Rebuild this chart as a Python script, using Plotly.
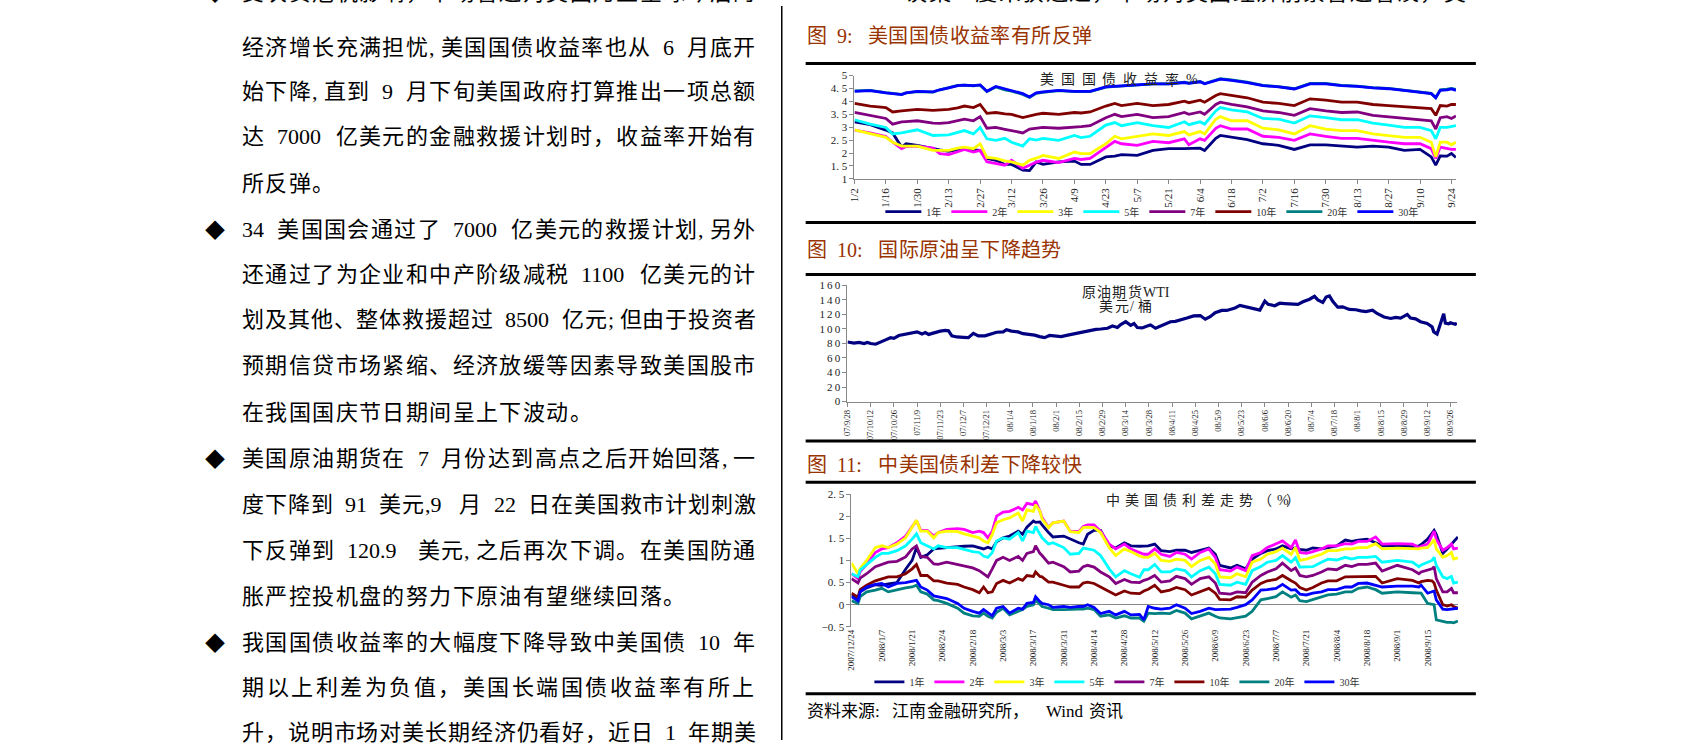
import plotly.graph_objects as go

W, H = 1684, 746
SERIF = "Liberation Serif, Noto Sans CJK SC"
CJK = "Noto Sans CJK SC"

# ---------------- data: chart 1 (US treasury yields, %) ----------------
D1_DATES = ["2008-01-02", "2008-01-09", "2008-01-16", "2008-01-19", "2008-01-23", "2008-01-25", "2008-01-30",
            "2008-02-06", "2008-02-09", "2008-02-13", "2008-02-17", "2008-02-20", "2008-02-24", "2008-02-27",
            "2008-03-01", "2008-03-05", "2008-03-09", "2008-03-12", "2008-03-17", "2008-03-20", "2008-03-23",
            "2008-03-26", "2008-04-02", "2008-04-09", "2008-04-12", "2008-04-16", "2008-04-23", "2008-04-27",
            "2008-04-30", "2008-05-07", "2008-05-14", "2008-05-21", "2008-05-28", "2008-05-30", "2008-06-04",
            "2008-06-06", "2008-06-11", "2008-06-13", "2008-06-18", "2008-06-25", "2008-07-02", "2008-07-09",
            "2008-07-16", "2008-07-23", "2008-07-30", "2008-08-06", "2008-08-13", "2008-08-20", "2008-08-27",
            "2008-09-03", "2008-09-10", "2008-09-15", "2008-09-17", "2008-09-19", "2008-09-22", "2008-09-24",
            "2008-09-26"]
US_1Y = [3.21, 3.10, 2.89, 2.78, 2.23, 2.36, 2.30, 2.17, 2.12, 2.07,
         2.12, 2.17, 2.12, 2.10, 1.79, 1.72, 1.56, 1.56, 1.34, 1.32,
         1.66, 1.56, 1.66, 1.69, 1.56, 1.56, 1.85, 1.88, 1.94, 1.91,
         2.10, 2.17, 2.17, 2.17, 2.19, 2.10, 2.57, 2.68, 2.61, 2.52,
         2.36, 2.30, 2.14, 2.32, 2.32, 2.27, 2.23, 2.27, 2.23, 2.10,
         2.14, 1.85, 1.53, 1.89, 1.88, 1.98, 1.83]
US_2Y = [2.89, 2.78, 2.64, 2.42, 2.17, 2.25, 2.27, 2.19, 1.98, 1.94,
         2.05, 2.14, 2.04, 2.10, 1.66, 1.60, 1.53, 1.72, 1.41, 1.53,
         1.65, 1.72, 1.63, 1.79, 1.75, 1.79, 2.23, 2.45, 2.36, 2.30,
         2.45, 2.40, 2.55, 2.32, 2.55, 2.49, 2.96, 3.06, 2.93, 2.93,
         2.65, 2.61, 2.49, 2.74, 2.65, 2.57, 2.57, 2.49, 2.42, 2.36,
         2.36, 2.17, 1.79, 2.23, 2.17, 2.14, 2.14]
US_3Y = [2.90, 2.74, 2.61, 2.42, 2.27, 2.27, 2.27, 2.10, 2.10, 2.10,
         2.19, 2.23, 2.17, 2.36, 1.83, 1.79, 1.70, 1.66, 1.53, 1.72,
         1.80, 1.91, 1.79, 2.04, 1.98, 1.98, 2.36, 2.65, 2.55, 2.65,
         2.74, 2.68, 2.83, 2.70, 2.83, 2.74, 3.31, 3.41, 3.25, 3.25,
         2.96, 2.90, 2.74, 3.06, 2.93, 2.87, 2.87, 2.74, 2.68, 2.61,
         2.61, 2.42, 1.85, 2.42, 2.42, 2.32, 2.42]
US_5Y = [3.29, 3.12, 2.99, 2.74, 2.78, 2.82, 2.90, 2.68, 2.70, 2.70,
         2.80, 2.87, 2.74, 2.99, 2.55, 2.49, 2.57, 2.42, 2.27, 2.55,
         2.50, 2.57, 2.49, 2.68, 2.60, 2.65, 3.08, 3.18, 3.06, 3.18,
         3.06, 2.99, 3.21, 3.10, 3.21, 3.12, 3.63, 3.76, 3.67, 3.59,
         3.34, 3.31, 3.16, 3.44, 3.37, 3.29, 3.29, 3.16, 3.08, 2.99,
         2.99, 2.87, 2.55, 2.99, 2.99, 3.03, 3.06]
US_7Y = [3.57, 3.46, 3.34, 3.12, 3.21, 3.22, 3.25, 3.16, 3.15, 3.18,
         3.25, 3.31, 3.25, 3.41, 2.96, 2.99, 2.92, 2.87, 2.78, 2.93,
         2.95, 2.99, 2.96, 2.99, 3.02, 3.06, 3.37, 3.50, 3.41, 3.50,
         3.37, 3.41, 3.57, 3.50, 3.59, 3.50, 3.88, 3.97, 3.88, 3.79,
         3.63, 3.57, 3.46, 3.72, 3.63, 3.57, 3.59, 3.46, 3.41, 3.34,
         3.31, 3.25, 2.93, 3.37, 3.41, 3.34, 3.44]
US_10Y = [3.92, 3.82, 3.76, 3.59, 3.63, 3.65, 3.69, 3.65, 3.66, 3.69,
          3.75, 3.82, 3.76, 3.88, 3.54, 3.57, 3.52, 3.50, 3.37, 3.44,
          3.50, 3.54, 3.50, 3.57, 3.55, 3.59, 3.82, 3.92, 3.84, 3.92,
          3.84, 3.88, 4.01, 3.95, 4.05, 3.97, 4.23, 4.30, 4.23, 4.14,
          3.97, 3.92, 3.84, 4.10, 4.05, 3.97, 3.97, 3.88, 3.84, 3.79,
          3.76, 3.72, 3.46, 3.84, 3.82, 3.88, 3.88]
US_20Y = [4.41, 4.43, 4.34, 4.30, 4.27, 4.33, 4.38, 4.36, 4.45, 4.53,
          4.62, 4.63, 4.60, 4.63, 4.38, 4.56, 4.45, 4.40, 4.27, 4.15,
          4.31, 4.35, 4.42, 4.38, 4.37, 4.38, 4.55, 4.57, 4.60, 4.63,
          4.68, 4.68, 4.74, 4.71, 4.77, 4.69, 4.83, 4.88, 4.83, 4.75,
          4.62, 4.57, 4.49, 4.70, 4.70, 4.62, 4.59, 4.53, 4.50, 4.44,
          4.36, 4.31, 4.15, 4.45, 4.47, 4.50, 4.46]
US_30Y = [4.39, 4.42, 4.33, 4.29, 4.26, 4.33, 4.39, 4.37, 4.45, 4.52,
          4.61, 4.63, 4.61, 4.64, 4.39, 4.58, 4.48, 4.43, 4.30, 4.17,
          4.33, 4.37, 4.43, 4.39, 4.38, 4.39, 4.56, 4.58, 4.61, 4.64,
          4.68, 4.68, 4.73, 4.70, 4.76, 4.68, 4.81, 4.86, 4.81, 4.73,
          4.61, 4.56, 4.48, 4.68, 4.68, 4.61, 4.58, 4.52, 4.49, 4.43,
          4.35, 4.30, 4.14, 4.43, 4.45, 4.48, 4.43]
D1_TICKS = ["2008-01-02", "2008-01-16", "2008-01-30", "2008-02-13", "2008-02-27", "2008-03-12", "2008-03-26",
            "2008-04-09", "2008-04-23", "2008-05-07", "2008-05-21", "2008-06-04", "2008-06-18", "2008-07-02",
            "2008-07-16", "2008-07-30", "2008-08-13", "2008-08-27", "2008-09-10", "2008-09-24"]
D1_TICKTEXT = ["1/2", "1/16", "1/30", "2/13", "2/27", "3/12", "3/26", "4/9", "4/23", "5/7", "5/21",
               "6/4", "6/18", "7/2", "7/16", "7/30", "8/13", "8/27", "9/10", "9/24"]
Y1_TICKS = [1, 1.5, 2, 2.5, 3, 3.5, 4, 4.5, 5]
Y1_TICKTEXT = ["1", "1. 5", "2", "2. 5", "3", "3. 5", "4", "4. 5", "5"]

# ---------------- data: chart 2 (WTI crude futures, USD/bbl) ----------------
OIL_DATES = ["2007-09-28", "2007-10-02", "2007-10-05", "2007-10-08", "2007-10-10", "2007-10-12", "2007-10-15",
             "2007-10-18", "2007-10-21", "2007-10-24", "2007-10-26", "2007-10-29", "2007-11-02", "2007-11-05",
             "2007-11-09", "2007-11-12", "2007-11-14", "2007-11-16", "2007-11-19", "2007-11-23", "2007-11-26",
             "2007-11-28", "2007-11-30", "2007-12-03", "2007-12-07", "2007-12-10", "2007-12-13", "2007-12-16",
             "2007-12-20", "2007-12-24", "2007-12-27", "2007-12-31", "2008-01-02", "2008-01-05", "2008-01-09",
             "2008-01-12", "2008-01-15", "2008-01-19", "2008-01-22", "2008-01-25", "2008-01-28", "2008-02-01",
             "2008-02-04", "2008-02-08", "2008-02-11", "2008-02-14", "2008-02-18", "2008-02-21", "2008-02-25",
             "2008-02-28", "2008-03-03", "2008-03-06", "2008-03-09", "2008-03-11", "2008-03-14", "2008-03-17",
             "2008-03-19", "2008-03-21", "2008-03-24", "2008-03-27", "2008-03-29", "2008-04-01", "2008-04-04",
             "2008-04-07", "2008-04-10", "2008-04-13", "2008-04-17", "2008-04-20", "2008-04-24", "2008-04-28",
             "2008-05-01", "2008-05-04", "2008-05-07", "2008-05-11", "2008-05-14", "2008-05-17", "2008-05-19",
             "2008-05-22", "2008-05-25", "2008-05-28", "2008-05-31", "2008-06-03", "2008-06-06", "2008-06-08",
             "2008-06-12", "2008-06-15", "2008-06-18", "2008-06-22", "2008-06-26", "2008-06-29", "2008-07-03",
             "2008-07-06", "2008-07-08", "2008-07-11", "2008-07-13", "2008-07-15", "2008-07-17", "2008-07-20",
             "2008-07-23", "2008-07-27", "2008-07-31", "2008-08-03", "2008-08-06", "2008-08-10", "2008-08-13",
             "2008-08-17", "2008-08-21", "2008-08-24", "2008-08-27", "2008-08-31", "2008-09-02", "2008-09-05",
             "2008-09-08", "2008-09-12", "2008-09-15", "2008-09-16", "2008-09-18", "2008-09-19", "2008-09-22",
             "2008-09-23", "2008-09-25", "2008-09-26", "2008-09-29", "2008-09-30"]
OIL_WTI = [82.0, 80.5, 81.5, 80.0, 81.5, 80.0, 79.0,
           82.5, 85.0, 88.0, 87.0, 91.0, 92.5, 94.5,
           96.0, 93.0, 95.0, 92.5, 94.5, 97.0, 98.0,
           97.5, 90.5, 89.0, 88.5, 88.0, 94.0, 90.5,
           90.5, 93.0, 95.5, 96.0, 99.0, 97.0, 96.0,
           93.5, 93.0, 91.5, 89.5, 88.0, 91.0, 90.0,
           89.5, 91.5, 93.0, 94.0, 96.5, 98.0, 99.5,
           100.0, 101.0, 104.0, 102.0, 106.0, 110.0, 105.0,
           107.5, 102.0, 101.5, 104.0, 105.5, 101.0, 104.0,
           107.0, 110.0, 110.5, 112.5, 115.0, 118.0, 118.5,
           113.5, 117.0, 122.5, 125.5, 125.5, 127.0, 129.0,
           132.5, 131.0, 130.0, 127.5, 126.0, 138.5, 134.0,
           132.0, 135.5, 135.0, 135.0, 134.0, 137.5, 141.0,
           145.0, 140.0, 136.5, 144.0, 145.5, 138.0, 130.0,
           130.5, 127.0, 126.5, 125.0, 124.0, 126.0, 121.0,
           116.5, 114.5, 116.0, 115.0, 120.0, 115.0, 114.0,
           110.0, 107.5, 103.0, 96.0, 93.0, 100.0, 121.0,
           108.0, 107.0, 108.5, 106.5, 108.0]
D2_TICKS = ["2007-09-28", "2007-10-12", "2007-10-26", "2007-11-09", "2007-11-23", "2007-12-07", "2007-12-21",
            "2008-01-04", "2008-01-18", "2008-02-01", "2008-02-15", "2008-02-29", "2008-03-14", "2008-03-28",
            "2008-04-11", "2008-04-25", "2008-05-09", "2008-05-23", "2008-06-06", "2008-06-20", "2008-07-04",
            "2008-07-18", "2008-08-01", "2008-08-15", "2008-08-29", "2008-09-12", "2008-09-26"]
D2_TICKTEXT = ["07/9/28", "07/10/12", "07/10/26", "07/11/9", "07/11/23", "07/12/7", "07/12/21",
               "08/1/4", "08/1/18", "08/2/1", "08/2/15", "08/2/29", "08/3/14", "08/3/28",
               "08/4/11", "08/4/25", "08/5/9", "08/5/23", "08/6/6", "08/6/20", "08/7/4",
               "08/7/18", "08/8/1", "08/8/15", "08/8/29", "08/9/12", "08/9/26"]
Y2_TICKS = [0, 20, 40, 60, 80, 100, 120, 140, 160]
Y2_TICKTEXT = ["0", "2\u20090", "4\u20090", "6\u20090", "8\u20090", "1\u20090\u20090",
               "1\u20092\u20090", "1\u20094\u20090", "1\u20096\u20090"]

# ---------------- data: chart 3 (China-US yield spread, %) ----------------
D3_DATES = ["2007-12-24", "2007-12-27", "2007-12-28", "2007-12-31", "2008-01-04", "2008-01-07", "2008-01-10",
            "2008-01-14", "2008-01-18", "2008-01-21", "2008-01-23", "2008-01-25", "2008-01-28", "2008-01-31",
            "2008-02-02", "2008-02-06", "2008-02-11", "2008-02-14", "2008-02-18", "2008-02-21", "2008-02-23",
            "2008-02-25", "2008-02-27", "2008-02-29", "2008-03-03", "2008-03-06", "2008-03-10", "2008-03-12",
            "2008-03-14", "2008-03-17", "2008-03-18", "2008-03-20", "2008-03-21", "2008-03-24", "2008-03-26",
            "2008-03-31", "2008-04-03", "2008-04-07", "2008-04-09", "2008-04-11", "2008-04-14", "2008-04-17",
            "2008-04-21", "2008-04-24", "2008-04-28", "2008-05-01", "2008-05-05", "2008-05-07", "2008-05-09",
            "2008-05-12", "2008-05-15", "2008-05-19", "2008-05-22", "2008-05-26", "2008-05-29", "2008-06-02",
            "2008-06-06", "2008-06-09", "2008-06-11", "2008-06-16", "2008-06-19", "2008-06-23", "2008-06-26",
            "2008-06-30", "2008-07-03", "2008-07-07", "2008-07-10", "2008-07-14", "2008-07-16", "2008-07-18",
            "2008-07-21", "2008-07-24", "2008-07-28", "2008-07-31", "2008-08-04", "2008-08-08", "2008-08-11",
            "2008-08-14", "2008-08-18", "2008-08-22", "2008-08-25", "2008-09-01", "2008-09-08", "2008-09-11",
            "2008-09-12", "2008-09-15", "2008-09-17", "2008-09-18", "2008-09-19", "2008-09-22", "2008-09-24",
            "2008-09-26", "2008-09-27", "2008-09-29"]
SP_1Y = [0.22, 0.12, 0.29, 0.38, 0.45, 0.44, 0.47, 0.50, 0.80, 1.00,
         1.29, 1.07, 1.13, 1.26, 1.27, 1.29, 1.31, 1.32, 1.33, 1.28,
         1.26, 1.30, 1.26, 1.42, 1.51, 1.55, 1.66, 1.59, 1.75, 1.89,
         1.86, 1.87, 1.80, 1.63, 1.53, 1.55, 1.48, 1.40, 1.37, 1.59,
         1.68, 1.68, 1.33, 1.28, 1.40, 1.33, 1.32, 1.33, 1.33, 1.37,
         1.22, 1.20, 1.23, 1.23, 1.18, 1.23, 1.28, 1.14, 0.89, 0.83,
         0.89, 0.81, 1.03, 1.16, 1.22, 1.26, 1.33, 1.26, 1.28, 1.25,
         1.23, 1.28, 1.26, 1.29, 1.33, 1.46, 1.43, 1.46, 1.48, 1.40,
         1.33, 1.33, 1.31, 1.33, 1.36, 1.48, 1.62, 1.68, 1.59, 1.16,
         1.26, 1.37, 1.40, 1.53]
SP_2Y = [0.70, 0.59, 0.75, 0.91, 1.18, 1.26, 1.29, 1.40, 1.55, 1.77,
         1.90, 1.68, 1.68, 1.55, 1.63, 1.70, 1.72, 1.70, 1.63, 1.66,
         1.63, 1.51, 1.66, 2.00, 2.09, 2.11, 2.20, 2.14, 2.29, 2.26,
         2.34, 2.11, 1.97, 1.75, 1.85, 1.89, 1.66, 1.65, 1.77, 1.80,
         1.80, 1.66, 1.37, 1.26, 1.37, 1.26, 1.18, 1.14, 1.14, 1.26,
         1.14, 1.09, 1.18, 1.14, 1.03, 1.18, 1.26, 1.07, 0.79, 0.76,
         0.85, 0.77, 1.11, 1.18, 1.29, 1.37, 1.44, 1.29, 1.46, 1.18,
         1.16, 1.20, 1.26, 1.33, 1.33, 1.38, 1.37, 1.43, 1.43, 1.53,
         1.37, 1.38, 1.37, 1.29, 1.32, 1.37, 1.55, 1.66, 1.48, 1.23,
         1.29, 1.37, 1.26, 1.28]
SP_3Y = [0.94, 0.70, 0.82, 1.00, 1.29, 1.33, 1.29, 1.37, 1.51, 1.74,
         1.91, 1.66, 1.66, 1.51, 1.63, 1.66, 1.65, 1.60, 1.55, 1.51,
         1.44, 1.40, 1.59, 1.85, 1.92, 1.96, 2.07, 1.89, 2.14, 2.11,
         2.26, 2.11, 1.94, 1.74, 1.85, 1.89, 1.65, 1.63, 1.74, 1.75,
         1.74, 1.63, 1.29, 1.11, 1.26, 1.20, 1.10, 1.07, 1.07, 1.16,
         1.00, 0.98, 1.03, 1.00, 0.86, 1.00, 1.07, 0.92, 0.63, 0.61,
         0.70, 0.63, 0.96, 1.03, 1.14, 1.20, 1.28, 1.14, 1.29, 1.00,
         1.03, 1.07, 1.14, 1.22, 1.22, 1.26, 1.26, 1.29, 1.29, 1.38,
         1.26, 1.28, 1.26, 1.26, 1.28, 1.29, 1.40, 1.48, 1.26, 1.07,
         1.11, 1.18, 1.03, 1.06]
SP_5Y = [0.70, 0.63, 0.78, 0.91, 1.07, 1.16, 1.16, 1.22, 1.33, 1.48,
         1.60, 1.40, 1.33, 1.26, 1.33, 1.29, 1.29, 1.25, 1.20, 1.18,
         1.10, 1.07, 1.18, 1.44, 1.51, 1.48, 1.63, 1.44, 1.66, 1.63,
         1.77, 1.59, 1.51, 1.37, 1.40, 1.29, 1.14, 1.16, 1.28, 1.26,
         1.23, 1.11, 0.81, 0.63, 0.77, 0.70, 0.62, 0.79, 0.79, 0.91,
         0.74, 0.74, 0.81, 0.77, 0.63, 0.77, 0.85, 0.70, 0.46, 0.44,
         0.51, 0.46, 0.77, 0.86, 0.96, 1.00, 1.11, 0.96, 1.06, 0.85,
         0.85, 0.86, 0.96, 1.03, 1.01, 1.07, 1.03, 1.07, 1.07, 1.09,
         0.96, 1.00, 0.96, 0.86, 0.90, 0.96, 1.00, 1.07, 0.89, 0.63,
         0.59, 0.64, 0.49, 0.51]
SP_7Y = [0.59, 0.49, 0.60, 0.70, 0.86, 0.91, 0.96, 0.98, 1.08, 1.26,
         1.33, 1.09, 1.07, 0.92, 0.91, 0.96, 0.91, 0.88, 0.83, 0.77,
         0.70, 0.63, 0.81, 1.00, 1.07, 1.00, 1.09, 1.00, 1.16, 1.20,
         1.33, 1.16, 1.11, 0.94, 0.96, 0.86, 0.74, 0.76, 0.86, 0.89,
         0.85, 0.74, 0.63, 0.48, 0.57, 0.51, 0.50, 0.55, 0.58, 0.66,
         0.51, 0.54, 0.64, 0.59, 0.46, 0.59, 0.63, 0.49, 0.26, 0.24,
         0.29, 0.27, 0.51, 0.66, 0.74, 0.81, 0.94, 0.77, 0.83, 0.66,
         0.63, 0.66, 0.74, 0.81, 0.79, 0.89, 0.86, 0.91, 0.91, 0.94,
         0.76, 0.89, 0.79, 0.70, 0.74, 0.78, 0.81, 0.86, 0.59, 0.29,
         0.29, 0.37, 0.27, 0.27]
SP_10Y = [0.26, 0.17, 0.34, 0.44, 0.54, 0.59, 0.63, 0.63, 0.70, 0.81,
          0.91, 0.66, 0.66, 0.54, 0.54, 0.49, 0.46, 0.40, 0.34, 0.27,
          0.40, 0.27, 0.29, 0.48, 0.55, 0.49, 0.59, 0.55, 0.66, 0.64,
          0.74, 0.64, 0.63, 0.51, 0.51, 0.44, 0.40, 0.40, 0.49, 0.51,
          0.48, 0.40, 0.29, 0.22, 0.31, 0.26, 0.25, 0.31, 0.35, 0.44,
          0.29, 0.33, 0.39, 0.34, 0.22, 0.29, 0.37, 0.26, 0.12, 0.11,
          0.18, 0.17, 0.33, 0.48, 0.54, 0.57, 0.66, 0.54, 0.49, 0.39,
          0.33, 0.39, 0.49, 0.54, 0.54, 0.63, 0.63, 0.63, 0.64, 0.64,
          0.49, 0.59, 0.55, 0.49, 0.52, 0.55, 0.54, 0.49, 0.33, 0.00,
          -0.03, 0.00, -0.04, -0.08]
SP_20Y = [0.09, 0.03, 0.18, 0.29, 0.33, 0.37, 0.29, 0.34, 0.38, 0.40,
          0.44, 0.29, 0.24, 0.11, 0.09, 0.03, -0.08, -0.19, -0.25, -0.26,
          -0.19, -0.26, -0.30, -0.17, -0.08, -0.23, -0.15, -0.11, -0.04, 0.00,
          0.11, 0.00, -0.04, -0.08, -0.11, -0.11, -0.10, -0.10, -0.10, -0.08,
          -0.11, -0.26, -0.23, -0.30, -0.25, -0.30, -0.30, -0.37, -0.19, -0.20,
          -0.19, -0.20, -0.13, -0.19, -0.32, -0.26, -0.19, -0.26, -0.30, -0.32,
          -0.30, -0.26, -0.15, 0.11, 0.14, 0.18, 0.29, 0.17, 0.22, 0.09,
          0.07, 0.11, 0.18, 0.22, 0.24, 0.29, 0.29, 0.37, 0.40, 0.34,
          0.26, 0.29, 0.27, 0.27, 0.26, 0.03, 0.00, 0.00, -0.34, -0.38,
          -0.40, -0.40, -0.41, -0.37]
SP_30Y = [0.18, 0.09, 0.29, 0.40, 0.46, 0.48, 0.40, 0.48, 0.50, 0.54,
          0.55, 0.40, 0.33, 0.20, 0.18, 0.14, 0.03, -0.08, -0.15, -0.19,
          -0.11, -0.19, -0.25, -0.08, -0.04, -0.19, -0.08, -0.10, 0.03, 0.05,
          0.18, 0.07, 0.03, 0.00, -0.06, -0.04, -0.06, -0.04, -0.04, 0.00,
          -0.06, -0.20, -0.15, -0.23, -0.15, -0.23, -0.22, -0.34, -0.04, -0.08,
          -0.10, -0.08, 0.00, -0.08, -0.20, -0.15, -0.08, -0.11, -0.11, -0.10,
          -0.06, 0.00, 0.11, 0.33, 0.34, 0.37, 0.46, 0.33, 0.34, 0.24,
          0.22, 0.26, 0.29, 0.34, 0.34, 0.40, 0.40, 0.48, 0.49, 0.44,
          0.40, 0.42, 0.42, 0.40, 0.44, 0.26, 0.29, 0.31, 0.11, -0.10,
          -0.11, -0.10, -0.10, -0.08]
D3_TICKS = ["2007-12-24", "2008-01-07", "2008-01-21", "2008-02-04", "2008-02-18", "2008-03-03", "2008-03-17",
            "2008-03-31", "2008-04-14", "2008-04-28", "2008-05-12", "2008-05-26", "2008-06-09", "2008-06-23",
            "2008-07-07", "2008-07-21", "2008-08-04", "2008-08-18", "2008-09-01", "2008-09-15"]
D3_TICKTEXT = ["2007/12/24", "2008/1/7", "2008/1/21", "2008/2/4", "2008/2/18", "2008/3/3", "2008/3/17",
               "2008/3/31", "2008/4/14", "2008/4/28", "2008/5/12", "2008/5/26", "2008/6/9", "2008/6/23",
               "2008/7/7", "2008/7/21", "2008/8/4", "2008/8/18", "2008/9/1", "2008/9/15"]
Y3_TICKS = [-0.5, 0, 0.5, 1, 1.5, 2, 2.5]
Y3_TICKTEXT = ["\u22120. 5", "0", "0. 5", "1", "1. 5", "2", "2. 5"]

SERIES_NAMES = ["1年", "2年", "3年", "5年", "7年", "10年", "20年", "30年"]

# ---------------- text ----------------
BODY_LINES = [
    "受次贷危机影响，市场普遍对美国乃至全球今后的",
    "经济增长充满担忧,美国国债收益率也从 6 月底开",
    "始下降,直到 9 月下旬美国政府打算推出一项总额",
    "达 7000 亿美元的金融救援计划时，收益率开始有",
    "所反弹。",
    "34 美国国会通过了 7000 亿美元的救援计划,另外",
    "还通过了为企业和中产阶级减税 1100 亿美元的计",
    "划及其他、整体救援超过 8500 亿元;但由于投资者",
    "预期信贷市场紧缩、经济放缓等因素导致美国股市",
    "在我国国庆节日期间呈上下波动。",
    "美国原油期货在 7 月份达到高点之后开始回落,一",
    "度下降到 91 美元,9 月 22 日在美国救市计划刺激",
    "下反弹到 120.9 美元,之后再次下调。在美国防通",
    "胀严控投机盘的努力下原油有望继续回落。",
    "我国国债收益率的大幅度下降导致中美国债 10 年",
    "期以上利差为负值，美国长端国债收益率有所上",
    "升，说明市场对美长期经济仍看好，近日 1 年期美",
]
PARAGRAPH_END = {4, 9, 13}
BULLET_LINES = {0, 5, 10, 14}
TOP_RIGHT_LINE = "议案一度未获通过，市场对美国经济前景普遍看淡，美"
FIG_TITLES = ["图 9: 美国国债收益率有所反弹", "图 10: 国际原油呈下降趋势", "图 11: 中美国债利差下降较快"]
SOURCE_TEXT = "资料来源: 江南金融研究所，  Wind 资讯"

# ---------------- layout helpers (pixel -> paper) ----------------
def px(x):
    return x / W


def py(y):
    return 1 - y / H


annotations = []


def put(text, x, y, size, color="#000000", family=SERIF, xanchor="left"):
    annotations.append(dict(text=text, x=px(x), y=py(y), xref="paper", yref="paper",
                            xanchor=xanchor, yanchor="middle", showarrow=False, borderpad=0,
                            font=dict(size=size, color=color, family=family)))


def tokens(s):
    out = []
    i = 0
    while i < len(s):
        c = s[i]
        if c == " ":
            out.append((None, 0.5))
            i += 1
        elif ord(c) < 128:
            j = i
            while j < len(s) and s[j] != " " and ord(s[j]) < 128:
                j += 1
            out.append((s[i:j], 0.5 * (j - i)))
            i = j
        else:
            out.append((c, 1.0))
            i += 1
    return out


def put_line(s, x0, y, size, pitch=None, x1=None, **kw):
    toks = tokens(s)
    total = sum(u for _, u in toks)
    unit = (x1 - x0) / total if x1 is not None else pitch
    x = x0
    for t, u in toks:
        if t:
            put(t, x, y, size, **kw)
        x += u * unit


# body text (left column)
BODY_Y = [-14, 41.7, 87, 133, 180, 227, 273, 319, 365, 412.7, 460, 506.7, 553, 600, 646.7, 692.7, 738]
for i, (line, yy) in enumerate(zip(BODY_LINES, BODY_Y)):
    if i in PARAGRAPH_END:
        put_line(line, 236, yy, 22, pitch=23.5)
    else:
        put_line(line, 236, yy, 22, x1=753)
    if i in BULLET_LINES:
        put("◆", 210, yy, 20, family=CJK, xanchor="center")

# right column text
put_line(TOP_RIGHT_LINE, 902, -14, 22, pitch=23.5)
TITLE_COLOR = "#993300"
for title, yy in zip(FIG_TITLES, [30, 248, 467]):
    put_line(title, 803, yy, 20, pitch=20.5, color=TITLE_COLOR)
put_line("美国国债收益率%", 1037, 75, 14, pitch=21, color="#222222")
put_line("原油期货WTI", 1079, 291, 14, pitch=15.5, color="#222222")
put_line("美元/桶", 1097, 305, 14, pitch=15.5, color="#222222")
put_line("中美国债利差走势（%）", 1104, 503, 14, pitch=19, color="#222222")
put_line(SOURCE_TEXT, 803, 717, 17, pitch=17.2)

# shapes: divider and rules
shapes = [dict(type="line", xref="paper", yref="paper", x0=px(779), x1=px(779), y0=0, y1=1,
               line=dict(color="#000000", width=1.5))]
for ry in [58.5, 220, 273, 442, 484, 699]:
    shapes.append(dict(type="line", xref="paper", yref="paper", x0=px(803), x1=px(1476),
                       y0=py(ry), y1=py(ry), line=dict(color="#000000", width=3)))

# ---------------- traces ----------------
COLORS = ["#000080", "#FF00FF", "#FFFF00", "#00FFFF", "#800080", "#800000", "#008080", "#0000FF"]
fig = go.Figure()
us_series = [US_1Y, US_2Y, US_3Y, US_5Y, US_7Y, US_10Y, US_20Y, US_30Y]
for name, ys, col in zip(SERIES_NAMES, us_series, COLORS):
    fig.add_trace(go.Scatter(x=D1_DATES, y=ys, name=name, mode="lines",
                             line=dict(color=col, width=2.8), xaxis="x", yaxis="y", legend="legend"))
fig.add_trace(go.Scatter(x=OIL_DATES, y=OIL_WTI, name="原油期货WTI", mode="lines",
                         line=dict(color="#000080", width=3.2), xaxis="x2", yaxis="y2", showlegend=False))
sp_series = [SP_1Y, SP_2Y, SP_3Y, SP_5Y, SP_7Y, SP_10Y, SP_20Y, SP_30Y]
for name, ys, col in zip(SERIES_NAMES, sp_series, COLORS):
    fig.add_trace(go.Scatter(x=D3_DATES, y=ys, name=name, mode="lines",
                             line=dict(color=col, width=2.8), xaxis="x3", yaxis="y3", legend="legend2"))

AX = "#888888"
TICKC = "#222222"


def xax(domain, rng, tv, tt, size, anchor, showline=True, ticks="outside"):
    return dict(domain=domain, range=rng, type="date", tickvals=tv, ticktext=tt, tickangle=-90,
                showline=showline, linecolor=AX, linewidth=1, ticks=ticks, ticklen=4, tickcolor=AX,
                tickfont=dict(family=SERIF, size=size, color=TICKC), showgrid=False, zeroline=False,
                anchor=anchor, fixedrange=True)


def yax(domain, rng, tv, tt, anchor, zeroline=False):
    return dict(domain=domain, range=rng, tickvals=tv, ticktext=tt, showline=True, linecolor=AX,
                linewidth=1, ticks="outside", ticklen=4, tickcolor=AX,
                tickfont=dict(family=SERIF, size=11, color=TICKC), showgrid=False,
                zeroline=zeroline, zerolinecolor=AX, zerolinewidth=1, anchor=anchor, fixedrange=True)


fig.update_layout(
    width=W, height=H, autosize=False,
    margin=dict(l=0, r=0, t=0, b=0, pad=0),
    paper_bgcolor="white", plot_bgcolor="white",
    xaxis=xax([px(852), px(1456)], ["2008-01-02", "2008-09-26"], D1_TICKS, D1_TICKTEXT, 11, "y"),
    yaxis=yax([py(175.7), py(70.7)], [1, 5], Y1_TICKS, Y1_TICKTEXT, "x"),
    xaxis2=xax([px(845), px(1457)], ["2007-09-28", "2008-09-30"], D2_TICKS, D2_TICKTEXT, 8.5, "y2"),
    yaxis2=yax([py(402), py(284)], [0, 160], Y2_TICKS, Y2_TICKTEXT, "x2"),
    xaxis3=xax([px(849), px(1458)], ["2007-12-24", "2008-09-29"], D3_TICKS, D3_TICKTEXT, 9, "y3",
               showline=False, ticks=""),
    yaxis3=yax([py(631), py(496)], [-0.5, 2.5], Y3_TICKS, Y3_TICKTEXT, "x3", zeroline=True),
    legend=dict(orientation="h", x=px(878), y=py(209), xanchor="left", yanchor="middle",
                font=dict(family=SERIF, size=10, color="#333333"), itemwidth=36,
                bgcolor="rgba(0,0,0,0)", itemclick=False, itemdoubleclick=False),
    legend2=dict(orientation="h", x=px(867), y=py(687), xanchor="left", yanchor="middle",
                 font=dict(family=SERIF, size=10, color="#333333"), itemwidth=30,
                 bgcolor="rgba(0,0,0,0)", itemclick=False, itemdoubleclick=False),
    annotations=annotations,
    shapes=shapes,
    hovermode=False,
)

fig.write_html("out.html")
